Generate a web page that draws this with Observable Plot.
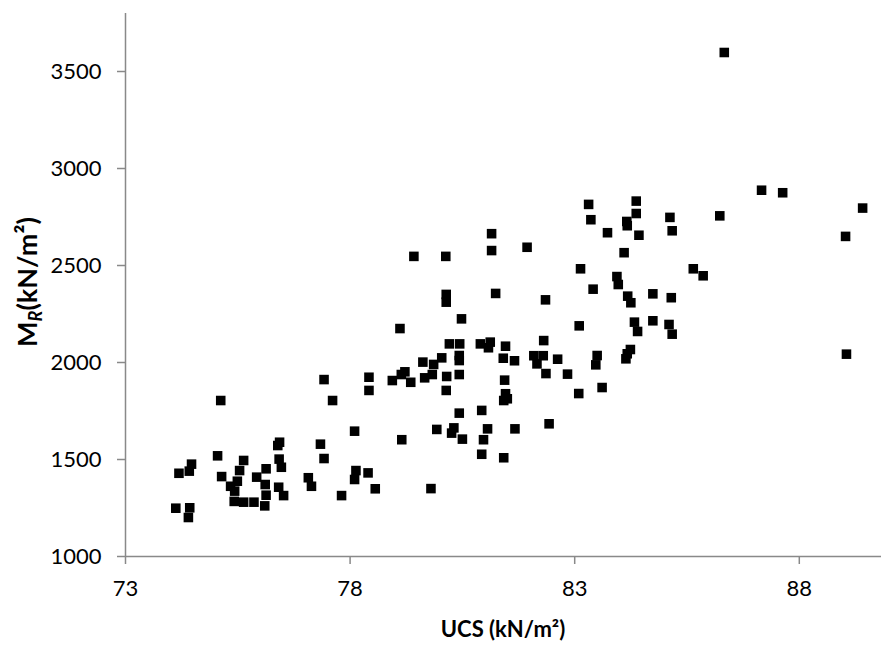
<!DOCTYPE html>
<html><head><meta charset="utf-8">
<script src="https://cdn.jsdelivr.net/npm/d3@7"></script>
<script src="https://cdn.jsdelivr.net/npm/@observablehq/plot@0.6"></script>
<style>body{margin:0;background:#fff} svg{display:block}</style>
</head><body><div id="chart"></div>
<script>
// UCS (kN/m²) values
const ucs = [
  77.42,78.42,78.42,75.12,77.61,78.10,76.39,76.43,77.34,75.05,77.42,74.47,74.42,74.19,75.63,75.54,75.49,75.34,75.43,75.14,
  76.13,75.92,76.11,76.13,76.10,76.42,76.47,76.41,76.52,77.07,77.14,78.13,78.10,78.40,77.81,78.56,75.42,75.63,75.86,74.12,
  74.43,74.40,
  83.31,83.36,83.73,81.15,81.15,81.94,79.42,80.13,83.13,83.41,80.14,80.14,81.24,82.35,80.48,79.11,83.10,80.21,80.44,80.90,
  81.12,81.08,81.46,82.31,79.62,79.86,80.04,80.43,80.43,81.41,81.66,82.09,82.30,82.16,82.62,83.50,83.47,78.94,79.14,79.22,
  79.35,79.66,79.83,80.15,80.43,82.36,82.84,80.14,81.44,81.46,81.42,81.50,83.09,83.61,80.43,80.93,79.93,80.31,80.26,80.50,
  81.06,80.97,81.67,82.43,79.15,80.93,81.42,
  84.37,84.37,84.16,84.17,84.43,84.10,85.12,85.17,86.23,87.16,87.63,89.41,89.03,83.94,83.97,85.64,85.86,84.18,84.25,84.74,
  85.15,84.33,84.40,84.74,85.10,85.17,84.24,84.17,84.14,89.05,86.33,79.80
];
// MR (kN/m²) values
const mr = [
  1912,1924,1856,1804,1804,1646,1572,1589,1579,1519,1505,1476,1440,1429,1495,1443,1388,1362,1337,1412,
  1452,1409,1371,1316,1261,1502,1460,1357,1314,1406,1362,1443,1397,1431,1314,1349,1284,1280,1280,1249,
  1251,1201,
  2815,2736,2669,2664,2577,2594,2547,2547,2483,2378,2351,2311,2356,2323,2225,2175,2189,2096,2096,2096,
  2105,2076,2084,2113,2002,1990,2024,2036,2010,2022,2009,2035,2035,1993,2017,2036,1988,1907,1938,1952,
  1898,1921,1938,1928,1938,1943,1940,1856,1909,1839,1804,1813,1840,1871,1739,1753,1655,1663,1636,1605,
  1658,1602,1658,1684,1602,1527,1509,
  2832,2768,2727,2705,2656,2566,2748,2679,2756,2888,2875,2796,2650,2443,2402,2483,2447,2342,2308,2354,
  2334,2208,2160,2215,2196,2146,2067,2045,2019,2043,3598,1350
];
const xTicks = [73, 78, 83, 88];
const yTicks = [1000, 1500, 2000, 2500, 3000, 3500];
const xTitle = "UCS (kN/m²)";
const yTitleMain = "M", yTitleSub = "R", yTitleRest = "(kN/m²)";

const data = ucs.map((u, i) => ({ucs: u, mr: mr[i]}));
const axisColor = "#898989";
const font = "Lato, 'Open Sans', sans-serif";

const plot = Plot.plot({
  width: 881, height: 646,
  marginLeft: 125, marginRight: 0, marginTop: 13, marginBottom: 90,
  style: {fontFamily: font, fontSize: "22px", color: "#000", background: "#fff", overflow: "visible"},
  x: {domain: [73, 89.83], label: null},
  y: {domain: [1000, 3799], label: null},
  marks: [
    Plot.ruleY([1000], {stroke: axisColor, strokeWidth: 1.5}),
    Plot.ruleX([73], {stroke: axisColor, strokeWidth: 1.5}),
    Plot.axisX({ticks: xTicks, tickSize: 8, tickPadding: 16, stroke: axisColor, strokeWidth: 1.5, color: "#000", tickFormat: d => String(d), label: null}),
    Plot.axisY({ticks: yTicks, tickSize: 8, tickPadding: 16, stroke: axisColor, strokeWidth: 1.5, color: "#000", tickFormat: d => String(d), label: null}),
    Plot.dot(data, {x: "ucs", y: "mr", symbol: "square", r: 5.4, fill: "#000", stroke: "none"})
  ]
});

const svg = d3.select(plot);
svg.append("text")
  .attr("x", 503).attr("y", 637)
  .attr("text-anchor", "middle")
  .attr("font-family", font).attr("font-size", 22).attr("font-weight", "bold").attr("fill", "#000")
  .text(xTitle);
const yt = svg.append("text")
  .attr("transform", "translate(37,282) rotate(-90)")
  .attr("text-anchor", "middle")
  .attr("font-family", font).attr("font-size", 27).attr("font-weight", "bold").attr("fill", "#000");
yt.append("tspan").text(yTitleMain);
yt.append("tspan").attr("font-style", "italic").attr("font-size", 18).attr("dy", 5).text(yTitleSub);
yt.append("tspan").attr("dy", -5).text(yTitleRest);

document.getElementById("chart").appendChild(plot);
</script>
</body></html>
